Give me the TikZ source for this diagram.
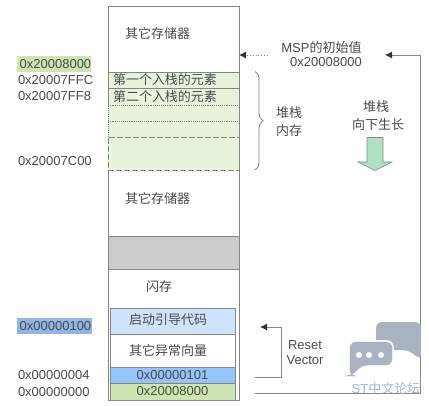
\documentclass[tikz,border=0pt]{standalone}
\usepackage{fontspec}
\setmainfont{Liberation Sans}
\newfontfamily\cjk{Noto Sans CJK SC}
\usepackage{xcolor}
\usetikzlibrary{positioning, calc, arrows.meta, decorations.pathreplacing}
\definecolor{edgegray}{HTML}{858585}
\definecolor{textgray}{HTML}{4A4A4A}
\definecolor{stackgreen}{HTML}{E8F3DC}
\definecolor{bootblue}{HTML}{CFE4FB}
\definecolor{vecblue}{HTML}{93C5FA}
\definecolor{vecgreen}{HTML}{CDE6B0}
\definecolor{markblue}{HTML}{92B4E6}
\definecolor{growgreen}{HTML}{B0E0C4}
\definecolor{markgray}{HTML}{A9B3C1}

\begin{document}
\begin{tikzpicture}[
    x=1pt, y=-1pt,
    every node/.style={inner sep=0pt, outer sep=0pt, text=textgray, font=\fontsize{13}{15}\selectfont},
    memcell/.style={draw=edgegray, minimum width=131pt, line width=0.9pt},
    flashcell/.style={draw=edgegray, minimum width=125pt, line width=0.9pt},
    addr/.style={anchor=west, minimum height=16pt},
    guide/.style={draw=edgegray, line width=0.9pt},
    tip/.style={-{Latex[length=7pt,width=7pt,color=black!80]}}
]
    \useasboundingbox (0,0) rectangle (429,405);

    % ================= MEMORY BLOCKS =================
    \node[memcell, minimum height=394pt] (MEM) at (173.5,203) {};
    \node[memcell, fill=stackgreen, minimum height=16pt] (PUSHA) at (173.5,80) {};
    \node[memcell, fill=stackgreen, minimum height=17pt] (PUSHB) at (173.5,96.5) {};
    \node[memcell, fill=stackgreen, minimum height=16pt, densely dotted] (FREEA) at (173.5,113) {};
    \node[memcell, fill=stackgreen, minimum height=16pt, densely dotted] (FREEB) at (173.5,129) {};
    \node[memcell, fill=stackgreen, minimum height=33pt, dash pattern=on 6pt off 2pt] (FREEC) at (173.5,153.5) {};
    \node[memcell, fill=black!20, minimum height=33pt] (GAP) at (173.5,252.5) {};

    % ================= FLASH BLOCKS =================
    \node[flashcell, fill=bootblue, minimum height=26pt] (BOOT) at (172.5,321) {};
    \node[flashcell, fill=white, minimum height=33pt] (EXC) at (172.5,350.5) {};
    \node[flashcell, fill=vecblue, minimum height=16pt] (RESETV) at (172.5,375) {0x00000101};
    \node[flashcell, fill=vecgreen, minimum height=17pt] (MSPV) at (172.5,391.5) {0x20008000};

    % ================= BLOCK LABELS =================
    \node (OTHERA) at (157.5,34) {\cjk 其它存储器};
    \node (OTHERB) at (157.5,199) {\cjk 其它存储器};
    \node (FLASH) at (159,287) {\cjk 闪存};
    \node (BOOTT) at (168,319.5) {\cjk 启动引导代码};
    \node (EXCT) at (168,351) {\cjk 其它异常向量};
    \node[anchor=west] (PUSHTA) at (113,80) {\cjk 第一个入栈的元素};
    \node[anchor=west] (PUSHTB) at (113,97) {\cjk 第二个入栈的元素};

    % ================= ADDRESSES =================
    \node[addr, fill=vecgreen, minimum width=74pt, align=left, text width=73pt] (ADDRA) at (17,64) {\,0x20008000};
    \node[addr] (ADDRB) at (18,80) {0x20007FFC};
    \node[addr] (ADDRC) at (18,96) {0x20007FF8};
    \node[addr] (ADDRD) at (18,161) {0x20007C00};
    \node[addr, fill=markblue, minimum width=75pt, align=left, text width=74pt] (ADDRE) at (17,326) {\,0x00000100};
    \node[addr] (ADDRF) at (18,375) {0x00000004};
    \node[addr] (ADDRG) at (18,392) {0x00000000};

    % ================= RIGHT SIDE LABELS =================
    \node (MSPT) at (321.5,48) {MSP{\cjk 的初始值}};
    \node (MSPA) at (326,62) {0x20008000};
    \node (STACKT) at (289,113) {\cjk 堆栈};
    \node (STACKU) at (289,131) {\cjk 内存};
    \node (GROWT) at (376,107) {\cjk 堆栈};
    \node (GROWU) at (378,125) {\cjk 向下生长};
    \node (RESETA) at (305,345) {Reset};
    \node (RESETB) at (305,360) {Vector};

    % ================= BRACE AND GROW ARROW =================
    \coordinate (BRTOP) at (255,71.5);
    \coordinate (BRBOT) at (255,170);
    \draw[guide, decorate, decoration={brace, amplitude=8pt, raise=0pt}] (BRTOP) -- (BRBOT);
    \draw[draw=edgegray, fill=growgreen, line width=0.6pt] (367,137.5) -- (383,137.5) -- (383,162) -- (392,162) -- (375,170.5) -- (358,162) -- (367,162) -- cycle;

    % ================= CONNECTIONS =================
    \coordinate (MSPTAIL) at (268,55);
    \draw[guide, dotted, tip] (MSPTAIL) -- (MSPTAIL -| MEM.east);

    \coordinate (LOOPHEAD) at (385,55);
    \coordinate (LOOPTOP) at (420,55);
    \coordinate (LOOPBOT) at (420,393);
    \coordinate (LOOPEND) at (255,393);
    \draw[guide, tip] (LOOPEND) -- (LOOPBOT) -- (LOOPTOP) -- (LOOPHEAD);

    \coordinate (RVHEAD) at (260,327);
    \coordinate (RVTOP) at (281,327);
    \coordinate (RVBOT) at (281,377);
    \coordinate (RVEND) at (255,377);
    \draw[guide, tip] (RVEND) -- (RVBOT) -- (RVTOP) -- (RVHEAD);

    % ================= WATERMARK =================
    \fill[markgray, rounded corners=6pt] (376,322) -- (421,322) -- (421,360) -- (408,350) -- (376,350) -- cycle;
    \draw[markgray, fill=markgray, rounded corners=6pt, preaction={draw=white, line width=4pt}] (350,342) -- (392,342) -- (392,365) -- (362,365) -- (351,376) -- (350,376) -- cycle;
    \foreach \dotx in {359,369,381} {
        \fill[white] (\dotx,355) circle (3pt);
    }
    \node[text=markgray] (MARK) at (386,389) {ST{\cjk 中文论坛}};

\end{tikzpicture}
\end{document}
